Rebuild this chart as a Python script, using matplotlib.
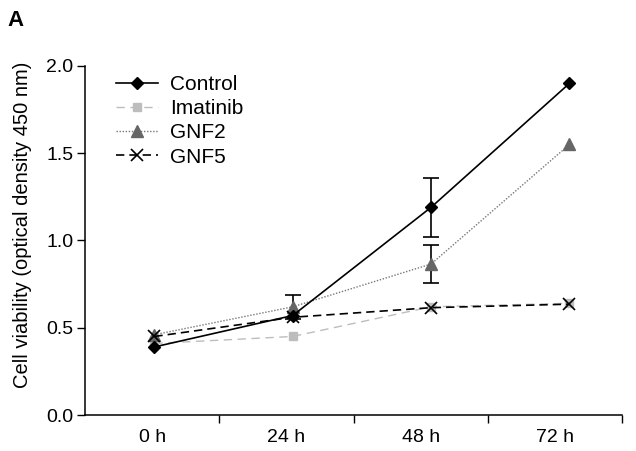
import matplotlib
matplotlib.use("Agg")
import matplotlib.pyplot as plt
import numpy as np

plt.rcParams['font.family'] = ['Liberation Sans', 'DejaVu Sans']

time_labels = ["0 h", "24 h", "48 h", "72 h"]
control = [0.39, 0.57, 1.19, 1.90]
control_err = [0.0, 0.0, 0.17, 0.0]
imatinib = [0.41, 0.45, 0.62, 0.64]
imatinib_err = [0.0, 0.0, 0.0, 0.0]
gnf2 = [0.46, 0.62, 0.865, 1.55]
gnf2_err = [0.0, 0.07, 0.11, 0.0]
gnf5 = [0.45, 0.56, 0.615, 0.635]
gnf5_err = [0.0, 0.0, 0.0, 0.0]

fig = plt.figure(figsize=(6.36, 4.51), dpi=100)
ax = fig.add_axes([0.134, 0.0798, 0.844, 0.774])

x = np.arange(len(time_labels))


def draw(vals, errs, label, z, **kw):
    ax.plot(x, vals, label=label, zorder=z, **kw)
    errs = np.asarray(errs)
    m = errs > 0
    if m.any():
        ax.errorbar(x[m], np.asarray(vals)[m], yerr=errs[m], fmt='none', ecolor='black',
                    elinewidth=1.2, capsize=6, capthick=1.2, zorder=z - 0.5)


draw(imatinib, imatinib_err, 'Imatinib', 2, color='#bdbdbd', linestyle=(0, (6, 4)), lw=1.0,
     marker='s', ms=6, mfc='#bdbdbd', mec='#bdbdbd')
draw(gnf2, gnf2_err, 'GNF2', 3, color='#777777', linestyle=(0, (1, 1.2)), lw=1.0,
     marker='^', ms=8, mfc='#666666', mec='#666666')
draw(gnf5, gnf5_err, 'GNF5', 4, color='black', linestyle=(0, (5, 3)), lw=1.2,
     marker='x', ms=9, mew=1.2)
draw(control, control_err, 'Control', 5, color='black', linestyle='-', lw=1.2,
     marker='D', ms=6.5, mfc='black', mec='black')

ax.set_ylim(0, 2.0)
ax.set_yticks([0.0, 0.5, 1.0, 1.5, 2.0])
ax.set_yticklabels(["0.0", "0.5", "1.0", "1.5", "2.0"])

step = 0.97
ax.set_xlim(-0.5, -0.5 + 4 * step)
ax.set_xticks([-0.5 + step * (k + 1) for k in range(4)])
ax.set_xticklabels([])
ax.set_xticks([-0.5 + step * (k + 0.5) for k in range(4)], minor=True)
ax.set_xticklabels(time_labels, minor=True)
ax.tick_params(axis='x', which='minor', length=0, pad=10, labelsize=14)
ax.tick_params(axis='x', which='major', length=5.5, width=1, direction='out')
ax.tick_params(axis='y', length=5.5, width=1, labelsize=14, pad=3)

for s in ['top', 'right']:
    ax.spines[s].set_visible(False)
for s in ['left', 'bottom']:
    ax.spines[s].set_linewidth(1.1)

ax.set_ylabel("Cell viability (optical density 450 nm)", fontsize=14.5)
ax.yaxis.set_label_coords(-0.1, 0.545)

handles, labels = ax.get_legend_handles_labels()
order = [labels.index(n) for n in ['Control', 'Imatinib', 'GNF2', 'GNF5']]
leg = ax.legend([handles[i] for i in order], [labels[i] for i in order],
                loc='upper left', bbox_to_anchor=(0.034, 1.01), frameon=False,
                fontsize=15, handlelength=2.0, handletextpad=0.6, labelspacing=0.25,
                borderaxespad=0.2)

fig.text(0.012, 0.955, "A", fontsize=16, fontweight='bold', ha='left', va='center')

fig.savefig("out.png", dpi=100)
